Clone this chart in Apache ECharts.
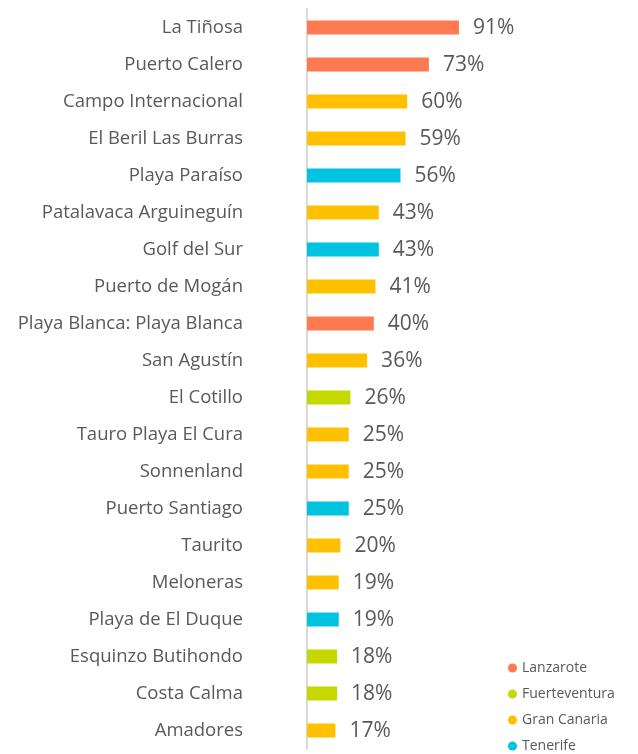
<!DOCTYPE html>
<html>
<head>
<meta charset="utf-8">
<script src="https://cdn.jsdelivr.net/npm/echarts@6/dist/echarts.min.js"></script>
<style>
  html, body { margin: 0; padding: 0; background: #fff; }
  #chart { width: 638px; height: 754px; }
</style>
</head>
<body>
<div id="chart"></div>
<script>
var places = ['La Tiñosa', 'Puerto Calero', 'Campo Internacional', 'El Beril Las Burras',
  'Playa Paraíso', 'Patalavaca Arguineguín', 'Golf del Sur', 'Puerto de Mogán',
  'Playa Blanca: Playa Blanca', 'San Agustín', 'El Cotillo', 'Tauro Playa El Cura',
  'Sonnenland', 'Puerto Santiago', 'Taurito', 'Meloneras', 'Playa de El Duque',
  'Esquinzo Butihondo', 'Costa Calma', 'Amadores'];
var shares = [91, 73, 60, 59, 56, 43, 43, 41, 40, 36, 26, 25, 25, 25, 20, 19, 19, 18, 18, 17];
var islandOf = ['Lanzarote', 'Lanzarote', 'Gran Canaria', 'Gran Canaria', 'Tenerife',
  'Gran Canaria', 'Tenerife', 'Gran Canaria', 'Lanzarote', 'Gran Canaria', 'Fuerteventura',
  'Gran Canaria', 'Gran Canaria', 'Tenerife', 'Gran Canaria', 'Gran Canaria', 'Tenerife',
  'Fuerteventura', 'Fuerteventura', 'Gran Canaria'];
var islands = ['Lanzarote', 'Fuerteventura', 'Gran Canaria', 'Tenerife'];
var islandColors = ['#FF7A50', '#C5D800', '#FFC000', '#00C3E0'];

var chart = echarts.init(document.getElementById('chart'));

var series = islands.map(function (isl, k) {
  return {
    name: isl,
    type: 'bar',
    stack: 'all',
    barWidth: 14,
    itemStyle: { color: islandColors[k] },
    label: {
      show: true,
      position: 'right',
      distance: 14,
      offset: [0, 1],
      color: '#595959',
      fontSize: 21,
      fontFamily: 'Open Sans',
      formatter: function (p) { return p.value + '%'; }
    },
    data: shares.map(function (v, i) { return islandOf[i] === isl ? v : '-'; })
  };
});

chart.setOption({
  animation: false,
  textStyle: { fontFamily: 'Open Sans' },
  legend: {
    orient: 'vertical',
    left: 508,
    top: 661,
    padding: 0,
    icon: 'circle',
    itemWidth: 9,
    itemHeight: 9,
    itemGap: 12,
    textStyle: { color: '#595959', fontSize: 14, lineHeight: 14 },
    data: islands
  },
  grid: { left: 307, top: 9, width: 167, height: 740 },
  xAxis: { type: 'value', min: 0, max: 100, show: false },
  yAxis: {
    type: 'category',
    inverse: true,
    data: places,
    axisLine: { lineStyle: { color: '#D9D9D9', width: 2 } },
    axisTick: { show: false },
    axisLabel: { color: '#595959', fontSize: 18.5, margin: 64 }
  },
  series: series
});

window.addEventListener('resize', function () { chart.resize(); });
</script>
</body>
</html>
